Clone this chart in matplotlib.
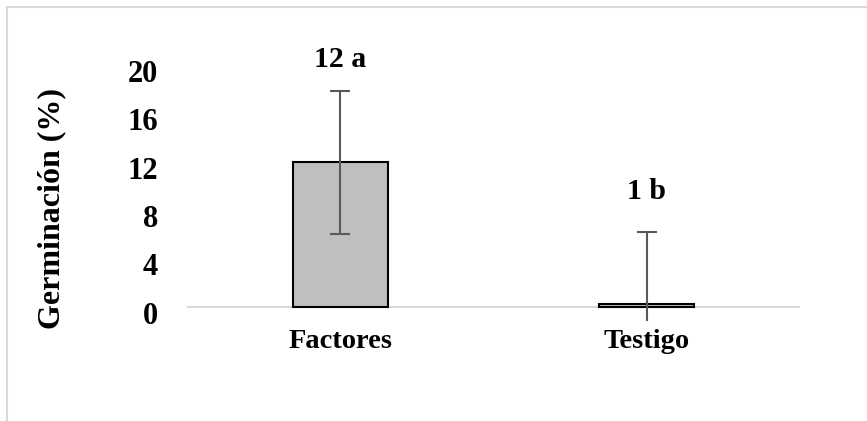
import matplotlib
matplotlib.use("Agg")
import matplotlib.pyplot as plt
from matplotlib.lines import Line2D
from matplotlib.transforms import ScaledTranslation

# datos
categorias = ["Factores", "Testigo"]
germinacion = [12, 0.3]
error = [5.9, 5.9]
etiquetas = ["12 a", "1 b"]
ticks_y = [0, 4, 8, 12, 16, 20]

# altura de las letras (en unidades del eje)
altura_etiquetas = [20.5, 9.6]

plt.rcParams["font.family"] = "Liberation Serif"
plt.rcParams["font.weight"] = "bold"

fig = plt.figure(figsize=(8.67, 4.21), dpi=100)
ax = fig.add_axes([0.2157, 0.2375, 0.707, 0.636])

x = range(len(categorias))
ax.bar(x, germinacion, width=0.31, color="#BFBFBF", edgecolor="black", linewidth=1.5, zorder=2)
ax.errorbar(x, germinacion, yerr=error, fmt="none", ecolor="#595959", elinewidth=1.5,
            capsize=7, capthick=1.5, zorder=3)
ax.axhline(0, color="#D9D9D9", linewidth=1.5, zorder=1)

for i, t in enumerate(etiquetas):
    ax.text(i, altura_etiquetas[i], t, ha="center", va="center", fontsize=21.5,
            fontweight="bold", clip_on=False)

ax.set_xlim(-0.5, 1.5)
ax.set_ylim(-1.13, 21)
ax.set_yticks(ticks_y)
ax.set_xticks(list(x))
ax.set_xticklabels(categorias, fontsize=20.5, fontweight="bold")
ax.tick_params(axis="y", length=0, pad=21, labelsize=22)
ax.tick_params(axis="x", length=0, pad=6)
for s in ax.spines.values():
    s.set_visible(False)

# etiquetas del eje y un poco mas abajo, como en Excel
for lab in ax.get_yticklabels():
    lab.set_transform(lab.get_transform() + ScaledTranslation(0, -4 / 72, fig.dpi_scale_trans))

ax.set_ylabel("Germinación (%)", fontsize=23, fontweight="bold")
ax.yaxis.label.set_va("center")
ax.yaxis.set_label_coords(-0.22, 0.42)

# marco del gráfico
fig.add_artist(Line2D([0.008, 0.008], [0, 0.983], transform=fig.transFigure, color="#D9D9D9", lw=1.5))
fig.add_artist(Line2D([0.008, 1.0], [0.983, 0.983], transform=fig.transFigure, color="#D9D9D9", lw=1.5))

fig.savefig("out.png", dpi=100)
